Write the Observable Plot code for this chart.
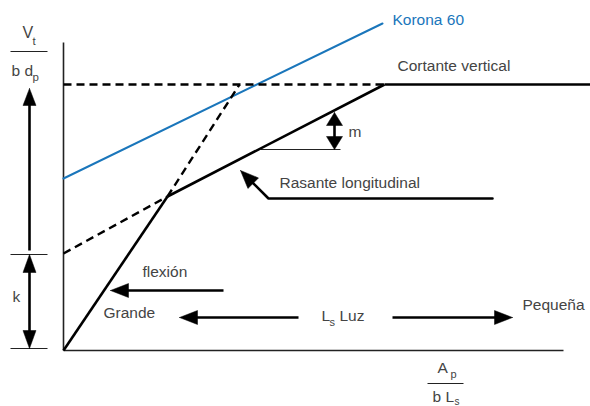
<!DOCTYPE html>
<html><head><meta charset="utf-8">
<script src="https://cdn.jsdelivr.net/npm/d3@7"></script>
<script src="https://cdn.jsdelivr.net/npm/@observablehq/plot@0.6"></script>
<style>body{margin:0;background:#fff}</style>
</head><body><div id="chart"></div>
<script>
// Schematic units: origin at the axes corner, y upward
const axisLines = [
  {x1: 0, y1: 0, x2: 0, y2: 308},
  {x1: 0, y1: 0, x2: 500, y2: 0}
];
const solidSegments = [
  {x1: 0, y1: 0, x2: 104, y2: 154},       // flexión (steep)
  {x1: 104, y1: 154, x2: 321, y2: 266},   // rasante longitudinal
  {x1: 321, y1: 266, x2: 527, y2: 266}    // cortante vertical
];
const dashedSegments = [
  {x1: 104, y1: 154, x2: 176, y2: 266},
  {x1: 0, y1: 97, x2: 104, y2: 154},
  {x1: 0, y1: 266, x2: 321, y2: 266}
];
const koronaLine = [{x: 0, y: 172}, {x: 319, y: 327}];
const thinLines = [
  {x1: -53, y1: 96, x2: -16, y2: 96},     // k tick top
  {x1: -53, y1: 2, x2: -16, y2: 2},       // k tick bottom
  {x1: 197, y1: 201, x2: 277, y2: 201},   // m reference
  {x1: -53, y1: 299, x2: -16, y2: 299},   // Vt / b dp
  {x1: 364, y1: -33, x2: 400, y2: -33}    // Ap / b Ls
];
const arrows = [
  {x1: -34, y1: 100, x2: -34, y2: 262, both: false, len: 17, hw: 6.5},
  {x1: -34, y1: 96, x2: -34, y2: 2, both: true, len: 18, hw: 6.5},
  {x1: 160, y1: 60, x2: 47, y2: 60, both: false, len: 18, hw: 7},
  {x1: 235, y1: 33, x2: 116, y2: 33, both: false, len: 18, hw: 7},
  {x1: 329, y1: 33, x2: 449, y2: 33, both: false, len: 18, hw: 7},
  {x1: 271, y1: 201, x2: 271, y2: 238, both: true, len: 13, hw: 8}
];
const rasanteArrow = [{x: 429, y: 152}, {x: 205, y: 152}, {x: 177, y: 180}];
const labels = [
  {text: "V", x: -41, y: 318, size: 16, color: "#444"},
  {text: "t", x: -31, y: 309, size: 11.5, color: "#444"},
  {text: "b d", x: -52, y: 279, size: 15.5, color: "#444"},
  {text: "p", x: -31, y: 273, size: 11.5, color: "#444"},
  {text: "Korona 60", x: 329, y: 330, size: 15.5, color: "#1a76bb"},
  {text: "Cortante vertical", x: 334, y: 284, size: 15.5, color: "#444"},
  {text: "m", x: 285, y: 218, size: 15.5, color: "#444"},
  {text: "Rasante longitudinal", x: 216, y: 167, size: 15.5, color: "#444"},
  {text: "flexión", x: 79, y: 78, size: 15.5, color: "#444"},
  {text: "Grande", x: 40, y: 37, size: 15.5, color: "#444"},
  {text: "L", x: 258, y: 34, size: 15.5, color: "#444"},
  {text: "s", x: 266, y: 28, size: 11, color: "#444"},
  {text: "Luz", x: 276, y: 34, size: 15.5, color: "#444"},
  {text: "Pequeña", x: 459, y: 45, size: 15.5, color: "#444"},
  {text: "k", x: -51, y: 53, size: 15.5, color: "#444"},
  {text: "A", x: 374, y: -18, size: 15.5, color: "#444"},
  {text: "p", x: 387, y: -24, size: 11, color: "#444"},
  {text: "b L", x: 369, y: -47, size: 15.5, color: "#444"},
  {text: "s", x: 391, y: -51, size: 10, color: "#444"}
];

// derived arrow geometry (heads + shortened shafts)
function head(tx, ty, fx, fy, len, hw, id) {
  const dx = tx - fx, dy = ty - fy, d = Math.hypot(dx, dy), ux = dx / d, uy = dy / d;
  const bx = tx - ux * len, by = ty - uy * len;
  return [[tx, ty], [bx - uy * hw, by + ux * hw], [bx + uy * hw, by - ux * hw], [tx, ty]]
    .map(([x, y]) => ({x, y, id}));
}
const heads = [];
const shafts = [];
arrows.forEach((a, i) => {
  const dx = a.x2 - a.x1, dy = a.y2 - a.y1, d = Math.hypot(dx, dy), ux = dx / d, uy = dy / d;
  heads.push(...head(a.x2, a.y2, a.x1, a.y1, a.len, a.hw, "a" + i + "e"));
  let s1x = a.x1, s1y = a.y1;
  if (a.both) {
    heads.push(...head(a.x1, a.y1, a.x2, a.y2, a.len, a.hw, "a" + i + "s"));
    s1x = a.x1 + ux * (a.len - 2); s1y = a.y1 + uy * (a.len - 2);
  }
  shafts.push({x1: s1x, y1: s1y, x2: a.x2 - ux * (a.len - 2), y2: a.y2 - uy * (a.len - 2)});
});
const rp = rasanteArrow;
const rTip = rp[rp.length - 1], rPrev = rp[rp.length - 2];
heads.push(...head(rTip.x, rTip.y, rPrev.x, rPrev.y, 18, 7.5, "ras"));
const rd = Math.hypot(rTip.x - rPrev.x, rTip.y - rPrev.y);
const rasShaft = rp.slice(0, -1).concat([{
  x: rTip.x - (rTip.x - rPrev.x) / rd * 16,
  y: rTip.y - (rTip.y - rPrev.y) / rd * 16
}]);

const font = "Liberation Sans, Arial, Helvetica, sans-serif";
const chart = Plot.plot({
  width: 590, height: 406,
  margin: 0,
  x: {domain: [-63, 527], axis: null},
  y: {domain: [-56, 350], axis: null},
  style: {background: "#fff"},
  marks: [
    Plot.link(axisLines, {x1: "x1", y1: "y1", x2: "x2", y2: "y2", stroke: "#222", strokeWidth: 1.6}),
    Plot.link(thinLines, {x1: "x1", y1: "y1", x2: "x2", y2: "y2", stroke: "#222", strokeWidth: 1}),
    Plot.line(koronaLine, {x: "x", y: "y", stroke: "#1a76bb", strokeWidth: 2}),
    Plot.link(dashedSegments, {x1: "x1", y1: "y1", x2: "x2", y2: "y2", stroke: "#000", strokeWidth: 2.4, strokeDasharray: "8,5"}),
    Plot.link(solidSegments, {x1: "x1", y1: "y1", x2: "x2", y2: "y2", stroke: "#000", strokeWidth: 2.6}),
    Plot.link(shafts, {x1: "x1", y1: "y1", x2: "x2", y2: "y2", stroke: "#000", strokeWidth: 2.6}),
    Plot.line(rasShaft, {x: "x", y: "y", stroke: "#000", strokeWidth: 2.6, strokeLinejoin: "miter"}),
    Plot.line(heads, {x: "x", y: "y", z: "id", fill: "#000", stroke: "#000", strokeWidth: 0.5}),
    Plot.text(labels, {x: "x", y: "y", text: "text", fontSize: "size", fill: "color", textAnchor: "start", fontFamily: font})
  ]
});
document.getElementById("chart").appendChild(chart);
</script></body></html>
